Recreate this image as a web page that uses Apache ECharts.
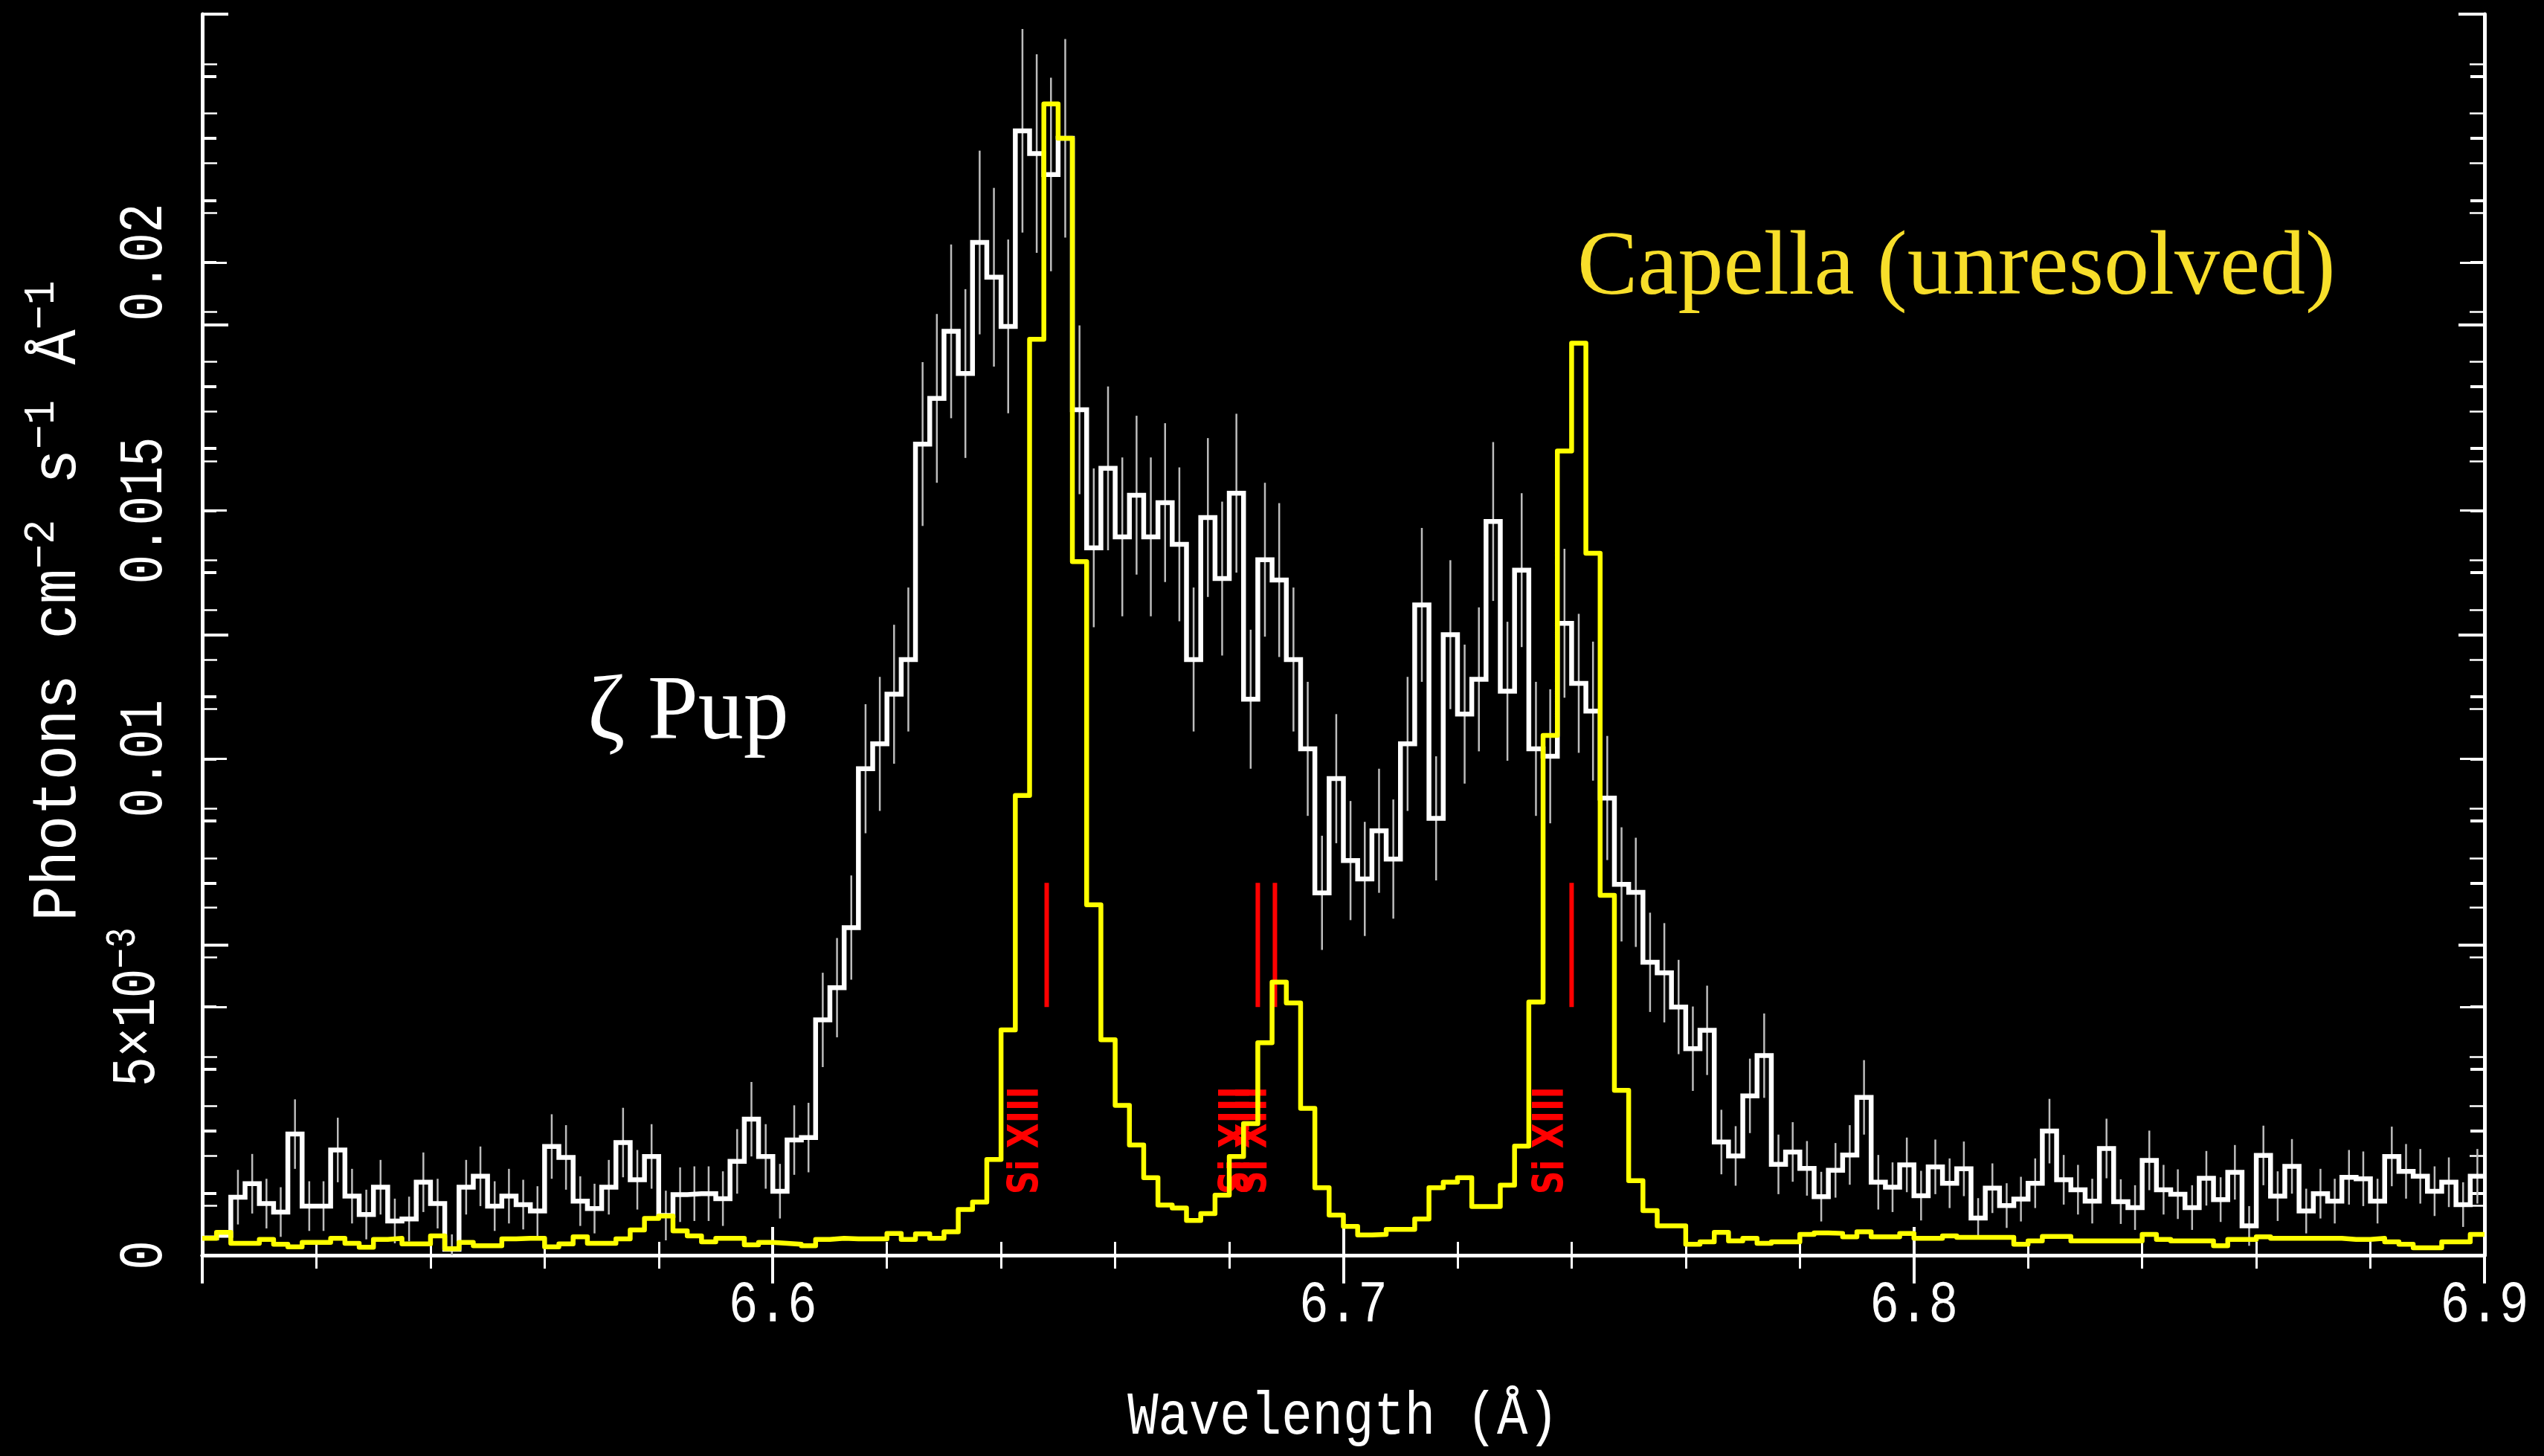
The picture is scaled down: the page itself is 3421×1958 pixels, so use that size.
<!DOCTYPE html>
<html>
<head>
<meta charset="utf-8">
<script src="https://cdn.jsdelivr.net/npm/echarts@6/dist/echarts.min.js"></script>
<style>
  html, body { margin: 0; padding: 0; background: #000; }
  #chart { width: 3421px; height: 1958px; }
</style>
</head>
<body>
<div id="chart"></div>
<script>
// Si XIII complex: HETGS spectra binned at 0.0025 Å, flux in units of 1e-3 photons cm^-2 s^-1 Å^-1
const BIN_START = 6.5;
const BIN_WIDTH = 0.0025;

// zeta Puppis (broadened lines), one value per bin
const zetaPupFlux = [
  0.35, 0.40, 1.17, 1.44, 1.04, 0.87, 2.44, 0.99, 0.99, 2.12,
  1.19, 0.82, 1.37, 0.69, 0.73, 1.47, 1.04, 0.12, 1.37, 1.59,
  0.99, 1.19, 1.02, 0.89, 2.19, 1.97, 1.09, 0.94, 1.37, 2.27,
  1.52, 1.99, 0.80, 1.22, 1.24, 1.24, 1.14, 1.89, 2.74, 1.99,
  1.29, 2.32, 2.37, 4.74, 5.39, 6.60, 9.80, 10.3, 11.3, 12.0,
  16.34, 17.26, 18.61, 17.76, 20.4, 19.7, 18.71, 22.65, 22.19, 21.77,
  22.5, 17.03, 14.25, 15.85, 14.47, 15.31, 14.47, 15.16, 14.32, 12.0,
  14.86, 13.63, 15.35, 11.2, 14.01, 13.6, 12.0, 10.2, 7.30, 9.60,
  7.95, 7.58, 8.55, 7.98, 10.3, 13.1, 8.80, 12.5, 10.9, 11.6,
  14.78, 11.36, 13.8, 10.2, 10.05, 12.73, 11.52, 10.96, 9.21, 7.47,
  7.31, 5.90, 5.69, 5.00, 4.16, 4.53, 2.28, 2.00, 3.21, 4.02,
  1.83, 2.08, 1.75, 1.18, 1.71, 2.02, 3.18, 1.47, 1.37, 1.82,
  1.20, 1.78, 1.45, 1.74, 0.75, 1.35, 1.00, 1.13, 1.45, 2.50,
  1.52, 1.32, 1.09, 2.15, 1.08, 0.96, 1.91, 1.32, 1.23, 0.96,
  1.55, 1.12, 1.67, 0.59, 2.01, 1.19, 1.79, 0.89, 1.24, 1.09,
  1.57, 1.54, 1.09, 1.99, 1.69, 1.59, 1.29, 1.47, 1.02, 1.59
];

// 1-sigma uncertainties of the zeta Pup bins (null: no bar)
const zetaPupError = [
  null, null, 0.55, 0.60, 0.50, 0.50, 0.70, 0.50, 0.50, 0.65,
  0.55, 0.50, 0.55, 0.45, 0.45, 0.60, 0.50, 0.30, 0.55, 0.60,
  0.50, 0.55, 0.50, 0.50, 0.65, 0.65, 0.50, 0.50, 0.55, 0.70,
  0.60, 0.65, 0.50, 0.55, 0.55, 0.55, 0.55, 0.65, 0.75, 0.65,
  0.55, 0.70, 0.70, 0.95, 1.00, 1.05, 1.30, 1.35, 1.40, 1.45,
  1.65, 1.70, 1.75, 1.70, 1.85, 1.80, 1.75, 2.05, 2.00, 1.95,
  2.00, 1.70, 1.60, 1.65, 1.60, 1.60, 1.60, 1.60, 1.55, 1.45,
  1.60, 1.55, 1.60, 1.40, 1.55, 1.55, 1.45, 1.35, 1.15, 1.30,
  1.20, 1.15, 1.25, 1.20, 1.35, 1.55, 1.25, 1.50, 1.40, 1.45,
  1.60, 1.40, 1.55, 1.35, 1.35, 1.50, 1.40, 1.40, 1.25, 1.15,
  1.10, 1.00, 1.00, 0.95, 0.85, 0.90, 0.65, 0.60, 0.75, 0.85,
  0.60, 0.60, 0.55, 0.50, 0.55, 0.60, 0.75, 0.55, 0.50, 0.55,
  0.50, 0.55, 0.50, 0.55, 0.40, 0.50, 0.45, 0.45, 0.50, 0.65,
  0.50, 0.50, 0.45, 0.60, 0.45, 0.45, 0.60, 0.50, 0.50, 0.45,
  0.55, 0.45, 0.55, 0.40, 0.60, 0.50, 0.55, 0.45, 0.50, 0.45,
  0.55, 0.55, 0.45, 0.60, 0.55, 0.55, 0.50, 0.50, 0.45, 0.55
];

// Capella (lines unresolved), same binning
const capellaFlux = [
  0.34, 0.46, 0.24, 0.24, 0.32, 0.22, 0.17, 0.26, 0.26, 0.34,
  0.24, 0.16, 0.32, 0.34, 0.23, 0.23, 0.39, 0.13, 0.26, 0.19,
  0.19, 0.33, 0.34, 0.34, 0.17, 0.23, 0.37, 0.24, 0.24, 0.33,
  0.51, 0.74, 0.79, 0.49, 0.39, 0.27, 0.34, 0.34, 0.21, 0.26,
  0.24, 0.22, 0.19, 0.32, 0.34, 0.33, 0.33, 0.33, 0.44, 0.32,
  0.43, 0.34, 0.47, 0.92, 1.07, 1.93, 4.54, 9.26, 18.45, 23.19,
  22.5, 13.97, 7.06, 4.34, 3.02, 2.22, 1.56, 1.01, 0.95, 0.70,
  0.84, 1.21, 1.99, 2.65, 4.28, 5.50, 5.08, 2.96, 1.36, 0.81,
  0.58, 0.41, 0.42, 0.52, 0.52, 0.73, 1.36, 1.47, 1.56, 0.98,
  0.98, 1.41, 2.20, 5.10, 10.47, 16.2, 18.37, 14.14, 7.25, 3.32,
  1.50, 0.90, 0.59, 0.59, 0.22, 0.27, 0.46, 0.29, 0.34, 0.24,
  0.27, 0.27, 0.42, 0.45, 0.44, 0.37, 0.47, 0.37, 0.37, 0.44,
  0.34, 0.34, 0.39, 0.36, 0.36, 0.36, 0.36, 0.22, 0.29, 0.38,
  0.38, 0.29, 0.29, 0.29, 0.29, 0.29, 0.42, 0.32, 0.29, 0.29,
  0.29, 0.19, 0.32, 0.32, 0.37, 0.34, 0.34, 0.34, 0.34, 0.34,
  0.32, 0.32, 0.34, 0.27, 0.22, 0.15, 0.15, 0.27, 0.27, 0.42
];

// Si XIII line positions (Å): resonance, intercombination pair, forbidden
const siXIIILines = [6.648, 6.685, 6.688, 6.740];
const siXIIILabel = 'Si XIII';
const lineMarkRange = [5.0, 7.5];   // 1e-3 units
const lineLabelLevel = 2.31;        // 1e-3 units

// axis tick labels
const xTickValues = [6.6, 6.7, 6.8, 6.9];
const xTickText = ['6.6', '6.7', '6.8', '6.9'];
const yTickValues = [0, 0.005, 0.01, 0.015, 0.02];
const yTickText = ['0', '5×10{sup|−3}', '0.01', '0.015', '0.02'];

const SCALE = 1e-3;

// histogram outline: one point per left bin edge plus the closing right edge
function stepData(values) {
  const pts = values.map((v, i) => [+(BIN_START + i * BIN_WIDTH).toFixed(4), v * SCALE]);
  pts.push([+(BIN_START + values.length * BIN_WIDTH).toFixed(4), values[values.length - 1] * SCALE]);
  return pts;
}

const errorData = [];
zetaPupFlux.forEach((v, i) => {
  const e = zetaPupError[i];
  if (e == null) return;
  const c = +(BIN_START + (i + 0.5) * BIN_WIDTH).toFixed(5);
  errorData.push([c, (v - e) * SCALE, (v + e) * SCALE]);
});

const lineMarkData = siXIIILines.map(l => [l, lineMarkRange[0] * SCALE, lineMarkRange[1] * SCALE]);
const lineLabelData = siXIIILines.map(l => [l, lineLabelLevel * SCALE]);

const MONO = '"Liberation Mono", "DejaVu Sans Mono", monospace';
const SERIF = '"Liberation Serif", "DejaVu Serif", serif';

const chart = echarts.init(document.getElementById('chart'), null, { renderer: 'canvas' });

const frameLine = { show: true, lineStyle: { color: '#ffffff', width: 5 } };
const tickAxis = (position, min, max, interval) => ({
  type: 'value', position, min, max, interval,
  axisLine: frameLine,
  splitLine: { show: false }, minorSplitLine: { show: false },
  axisLabel: { show: false }
});

const supStyle = (size, lift) => ({ color: '#fff', fontFamily: MONO, fontSize: size, padding: [0, 0, lift, 0] });

chart.setOption({
  backgroundColor: '#000000',
  animation: false,
  grid: { left: 272, right: 80, top: 19, bottom: 270, containLabel: false },
  xAxis: [
    Object.assign(tickAxis('bottom', 6.5, 6.9, 0.1), {
      axisTick: { show: true, inside: true, length: 38, lineStyle: { color: '#fff', width: 4 } },
      minorTick: { show: true, splitNumber: 5, length: 18, lineStyle: { color: '#fff', width: 3 } }
    }),
    Object.assign(tickAxis('top', 6.5, 6.9, 0.1), {
      axisTick: { show: true, inside: true, length: 38, lineStyle: { color: '#fff', width: 4 } },
      minorTick: { show: true, splitNumber: 5, length: 18, lineStyle: { color: '#fff', width: 3 } }
    })
  ],
  yAxis: [
    Object.assign(tickAxis('left', 0, 0.025, 0.005), {
      axisTick: { show: true, inside: true, length: 33, lineStyle: { color: '#fff', width: 3 } },
      minorTick: { show: true, splitNumber: 5, length: 20, lineStyle: { color: '#fff', width: 2.5 } }
    }),
    Object.assign(tickAxis('right', 0, 0.025, 0.005), {
      axisTick: { show: true, inside: true, length: 33, lineStyle: { color: '#fff', width: 3 } },
      minorTick: { show: true, splitNumber: 5, length: 20, lineStyle: { color: '#fff', width: 2.5 } }
    }),
    // second tick scale of the overlaid Capella frame
    Object.assign(tickAxis('left', 0, 4, 1), {
      axisLine: { show: false },
      axisTick: { show: true, inside: true, length: 35, lineStyle: { color: '#fff', width: 4 } },
      minorTick: { show: true, splitNumber: 5, length: 19, lineStyle: { color: '#fff', width: 4 } }
    }),
    Object.assign(tickAxis('right', 0, 4, 1), {
      axisLine: { show: false },
      axisTick: { show: true, inside: true, length: 35, lineStyle: { color: '#fff', width: 4 } },
      minorTick: { show: true, splitNumber: 5, length: 19, lineStyle: { color: '#fff', width: 4 } }
    })
  ],
  graphic: [
    {
      type: 'text', x: 1806, y: 1906, z: 10, scaleY: 1.19,
      style: { text: 'Wavelength (Å)', fill: '#fff', font: '69px ' + MONO, align: 'center', verticalAlign: 'middle' }
    },
    {
      type: 'text', x: 78, y: 808, z: 10, rotation: Math.PI / 2, scaleY: 1.08,
      style: {
        text: 'Photons cm{sup|−2} s{sup|−1} Å{sup|−1}', fill: '#fff', font: '79px ' + MONO,
        align: 'center', verticalAlign: 'middle',
        rich: { sup: supStyle(55, 40) }
      }
    },
    {
      type: 'text', left: 790, top: 900, z: 10,
      style: { text: 'ζ Pup', fill: '#ffffff', font: '122px ' + SERIF }
    },
    {
      type: 'text', left: 2121, top: 302, z: 10,
      style: { text: 'Capella (unresolved)', fill: '#f7de2a', font: '122px ' + SERIF }
    }
  ],
  series: [
    {
      name: 'ζ Pup errors', type: 'custom', xAxisIndex: 0, yAxisIndex: 0, z: 1, silent: true,
      data: errorData, encode: { x: 0, y: [1, 2] }, clip: true,
      renderItem: (params, api) => {
        const a = api.coord([api.value(0), api.value(1)]);
        const b = api.coord([api.value(0), api.value(2)]);
        return { type: 'line', shape: { x1: a[0], y1: a[1], x2: b[0], y2: b[1] },
                 style: { stroke: '#bdbdbd', lineWidth: 2.5 } };
      }
    },
    {
      name: 'ζ Pup', type: 'line', step: 'end', xAxisIndex: 0, yAxisIndex: 0, z: 2,
      data: stepData(zetaPupFlux), showSymbol: false, symbol: 'none',
      lineStyle: { color: '#ffffff', width: 6.5, join: 'miter' }
    },
    {
      name: 'Si XIII marks', type: 'custom', xAxisIndex: 0, yAxisIndex: 0, z: 3, silent: true,
      data: lineMarkData, encode: { x: 0, y: [1, 2] },
      renderItem: (params, api) => {
        const a = api.coord([api.value(0), api.value(1)]);
        const b = api.coord([api.value(0), api.value(2)]);
        return { type: 'line', shape: { x1: a[0], y1: a[1], x2: b[0], y2: b[1] },
                 style: { stroke: '#ff0000', lineWidth: 6 } };
      }
    },
    {
      name: 'Si XIII labels', type: 'custom', xAxisIndex: 0, yAxisIndex: 0, z: 3, silent: true,
      data: lineLabelData, encode: { x: 0, y: 1 },
      renderItem: (params, api) => {
        const p = api.coord([api.value(0), api.value(1)]);
        return { type: 'text', x: p[0] + 2, y: p[1], rotation: Math.PI / 2, scaleY: 1.3,
                 style: { text: siXIIILabel, fill: '#ff0000', font: 'bold 44px "DejaVu Sans"',
                          align: 'center', verticalAlign: 'bottom' } };
      }
    },
    {
      name: 'Capella', type: 'line', step: 'end', xAxisIndex: 0, yAxisIndex: 0, z: 4,
      data: stepData(capellaFlux), showSymbol: false, symbol: 'none',
      lineStyle: { color: '#ffff00', width: 6.5, join: 'round' }
    },
    {
      // wavelength tick labels, placed under their ticks
      name: 'x tick labels', type: 'custom', xAxisIndex: 0, yAxisIndex: 0, z: 5, silent: true, clip: false,
      data: xTickValues.map((v, i) => [v, 0, i]), encode: { x: 0, y: 1 },
      renderItem: (params, api) => {
        const p = api.coord([api.value(0), api.value(1)]);
        return { type: 'text', x: p[0], y: p[1] + 68, scaleY: 1.2,
                 style: { text: xTickText[api.value(2)], fill: '#fff', font: '66px ' + MONO,
                          align: 'center', verticalAlign: 'middle' } };
      }
    },
    {
      // flux tick labels, rotated, left of the frame
      name: 'y tick labels', type: 'custom', xAxisIndex: 0, yAxisIndex: 0, z: 5, silent: true, clip: false,
      data: yTickValues.map((v, i) => [6.5, v, i]), encode: { x: 0, y: 1 },
      renderItem: (params, api) => {
        const p = api.coord([api.value(0), api.value(1)]);
        const idx = api.value(2);
        return { type: 'text', x: p[0] - 77 - (idx === 1 ? 10 : 0), y: p[1], rotation: Math.PI / 2, scaleY: 1.25,
                 style: { text: yTickText[idx], fill: '#fff', font: '66px ' + MONO,
                          align: 'center', verticalAlign: 'middle',
                          rich: { sup: supStyle(46, 30) } } };
      }
    }
  ]
});
</script>
</body>
</html>
